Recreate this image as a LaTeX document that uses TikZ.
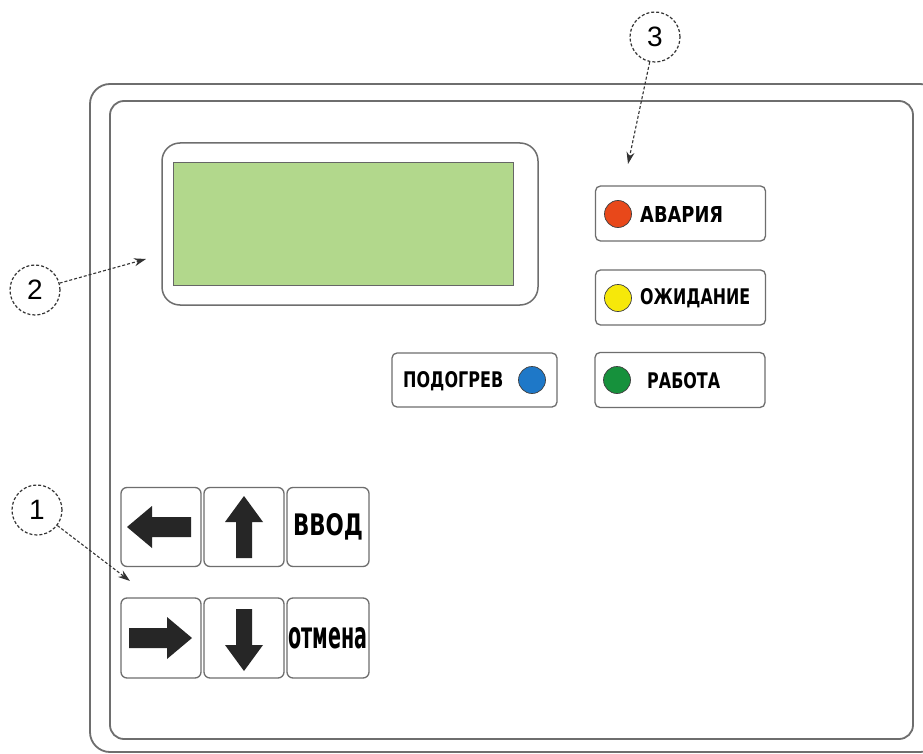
\documentclass[tikz,border=0pt]{standalone}
\usepackage{fontspec}
\usepackage{graphicx}
\setmainfont{Liberation Sans}
\newfontfamily\labfont{DejaVu Sans}
\usetikzlibrary{arrows.meta}
\newcommand{\lbl}[3]{\resizebox{#1pt}{#2pt}{\labfont\bfseries #3}}
\definecolor{lcdgreen}{RGB}{178,216,140}
\definecolor{ledred}{RGB}{232,72,26}
\definecolor{ledyellow}{RGB}{246,232,10}
\definecolor{ledgreen}{RGB}{22,145,60}
\definecolor{ledblue}{RGB}{30,120,200}
\definecolor{linegray}{RGB}{110,110,110}
\tikzset{
  framestyle/.style={draw=linegray, line width=1.8pt},
  btn/.style={draw=linegray, line width=1.3pt, rounded corners=6pt, fill=white, minimum width=80pt, minimum height=79pt, inner sep=0pt},
  ind/.style={draw=linegray, line width=1.3pt, rounded corners=5pt, minimum width=170pt, minimum height=55pt, inner sep=0pt},
  led/.style={circle, draw=black!75, line width=0.7pt, minimum size=27pt, inner sep=0pt},
  lbltext/.style={inner sep=0pt, anchor=west},
  callout/.style={circle, draw=black!80, densely dashed, line width=1.2pt, minimum size=50pt, inner sep=0pt, font=\fontsize{28}{30}\selectfont},
  callarrow/.style={draw=black!80, densely dashed, line width=1.1pt, -{Stealth[length=12pt,width=8pt]}},
  blockarrow/.style={fill=black!85}
}
\begin{document}
\begin{tikzpicture}[x=1pt,y=-1pt]
\clip (0,0) rectangle (923,754);
\fill[white] (0,0) rectangle (923,754);
% frames
\draw[framestyle, rounded corners=20pt] (90,84) rectangle (940,752);
\draw[framestyle, rounded corners=14pt] (110,101) rectangle (913,739);
% LCD
\draw[framestyle, line width=1.5pt, rounded corners=18pt] (162,143) rectangle (538,305);
\node[fill=lcdgreen, draw=black!60, line width=1pt, minimum width=340pt, minimum height=122pt, inner sep=0pt] (lcd) at (343,224) {};
% indicators
\node[ind] (avaria) at (680.5,213.5) {};
\node[led, fill=ledred] (ledA) at (618,214) {};
\node[lbltext] (tA) at (640,214) {\lbl{83}{16}{АВАРИЯ}};
\node[ind] (ozhid) at (680.5,297.5) {};
\node[led, fill=ledyellow] (ledO) at (618,298) {};
\node[lbltext] (tO) at (640,298) {\lbl{110}{16}{ОЖИДАНИЕ}};
\node[ind] (rabota) at (680,380) {};
\node[led, fill=ledgreen] (ledR) at (617,380) {};
\node[lbltext] (tR) at (647,381) {\lbl{73}{16}{РАБОТА}};
\node[ind, minimum width=165pt, minimum height=54pt] (podogrev) at (474.5,380) {};
\node[led, fill=ledblue] (ledP) at (532,380) {};
\node[lbltext] (tP) at (403,381) {\lbl{100}{16}{ПОДОГРЕВ}};
% buttons
\node[btn] (bleft) at (161,527) {};
\node[btn] (bup) at (244,527) {};
\node[btn, minimum width=82pt] (benter) at (328,527) {\lbl{70}{22}{ВВОД}};
\node[btn, minimum height=80pt] (bright) at (161,638) {};
\node[btn, minimum height=80pt] (bdown) at (244,638) {};
\node[btn, minimum width=82pt, minimum height=80pt] (bcancel) at (328,638) {\lbl{79}{21}{отмена}};
% block arrows
\fill[blockarrow, shift={(bleft.center)}] (-34,0) -- (-9,-21) -- (-9,-10) -- (30,-10) -- (30,10) -- (-9,10) -- (-9,21) -- cycle;
\fill[blockarrow, shift={(bright.center)}] (31,0) -- (6,-21) -- (6,-10) -- (-32,-10) -- (-32,10) -- (6,10) -- (6,21) -- cycle;
\fill[blockarrow, shift={(bup.center)}] (0,-31) -- (-19,-5) -- (-8,-5) -- (-8,31) -- (8,31) -- (8,-5) -- (19,-5) -- cycle;
\fill[blockarrow, shift={(bdown.center)}] (0,33) -- (-19,7) -- (-8,7) -- (-8,-29) -- (8,-29) -- (8,7) -- (19,7) -- cycle;
% callouts
\node[callout] (c3) at (655,37) {3};
\coordinate (p3) at (628,164);
\draw[callarrow] (c3) -- (p3);
\node[callout] (c2) at (35,290) {2};
\coordinate (p2) at (146,259);
\draw[callarrow] (c2) -- (p2);
\node[callout] (c1) at (37,510) {1};
\coordinate (p1) at (130,581);
\draw[callarrow] (c1) -- (p1);
\end{tikzpicture}
\end{document}
